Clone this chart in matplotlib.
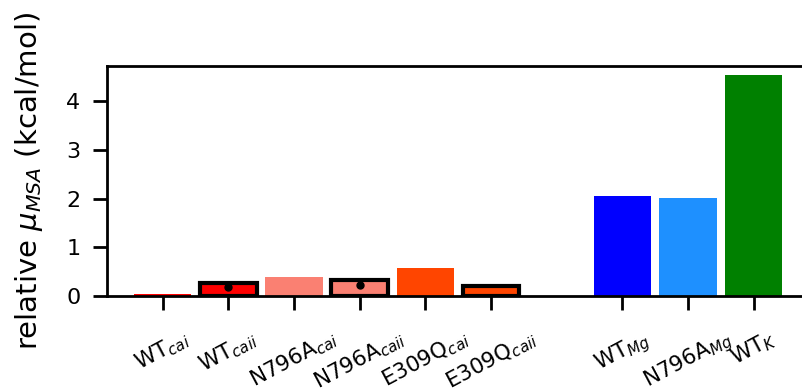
import matplotlib
matplotlib.use("Agg")
import matplotlib.pyplot as plt

# Relative chemical potential per system
labels = ["WT$_{cai}$", "WT$_{caii}$", "N796A$_{cai}$", "N796A$_{caii}$",
          "E309Q$_{cai}$", "E309Q$_{caii}$", "WT$_{Mg}$", "N796A$_{Mg}$", "WT$_{K}$"]
positions = [0, 1, 2, 3, 4, 5, 7, 8, 9]
values = [0.04, 0.26, 0.39, 0.33, 0.58, 0.21, 2.06, 2.02, 4.53]
colors = ["red", "red", "salmon", "salmon", "orangered", "orangered",
          "blue", "dodgerblue", "green"]
outlined = [False, True, False, True, False, True, False, False, False]

# Point estimates drawn inside the outlined bars
dot_positions = [1, 3]
dot_values = [0.19, 0.23]

fig = plt.figure(figsize=(8.03, 3.89), dpi=100)
ax = fig.add_axes([0.133, 0.239, 0.875, 0.591])

for x, v, c, o in zip(positions, values, colors, outlined):
    if o:
        ax.bar(x, v, width=0.86, color=c, edgecolor="black", linewidth=3)
    else:
        ax.bar(x, v, width=0.87, color=c, linewidth=0)

ax.plot(dot_positions, dot_values, "o", color="black", markersize=5)

ax.set_xlim(-0.85, 9.85)
ax.set_ylim(0, 4.72)
ax.set_yticks([0, 1, 2, 3, 4])
ax.set_xticks(positions)
ax.set_xticklabels(labels, rotation=28, ha="center", fontsize=15.5)
ax.tick_params(axis="y", labelsize=16, length=10, width=2, pad=9)
ax.tick_params(axis="x", length=10, width=2, pad=12)
ax.set_ylabel(r"relative $\mu_{MSA}$ (kcal/mol)", fontsize=21, labelpad=15)

for side in ["left", "bottom", "top"]:
    ax.spines[side].set_linewidth(2)
ax.spines["right"].set_visible(False)

fig.savefig("out.png", dpi=100)
